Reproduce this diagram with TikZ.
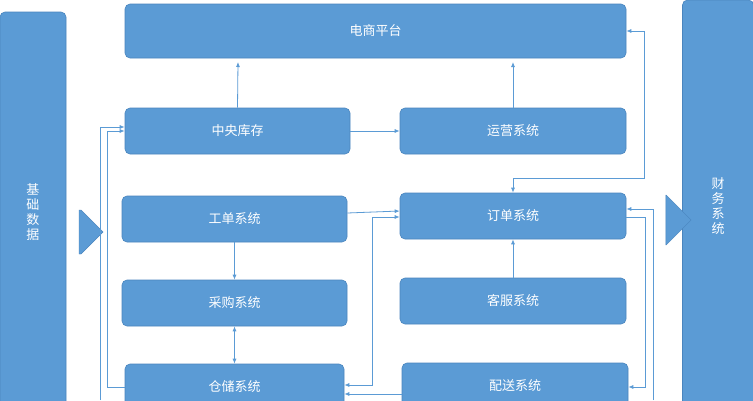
\documentclass[tikz,border=0pt]{standalone}
\usepackage{fontspec}
\newfontfamily\cjk{Noto Sans CJK SC}
\usetikzlibrary{arrows.meta,shapes.arrows}
\definecolor{bf}{HTML}{5B9BD5}
\definecolor{bd}{HTML}{4A85BE}
\begin{document}
\begin{tikzpicture}[x=1pt,y=-1pt,
  bx/.style={draw=bd,fill=bf,rounded corners=5pt,line width=0.6pt,text=white,font=\cjk\fontsize{13}{15}\selectfont},
  cn/.style={draw=bf,line width=0.8pt},
  ar/.style={cn,-{Latex[length=5pt,width=4pt]}},
  br/.style={cn,{Latex[length=5pt,width=4pt]}-{Latex[length=5pt,width=4pt]}}]
\useasboundingbox (0,0) rectangle (753,400);
\fill[white] (0,0) rectangle (753,400);
\newcommand\bxat[6]{\node[bx,minimum width=#4-#2,minimum height=#5-#3,inner sep=0pt] (#1) at ({(#2+#4)/2},{(#3+#5)/2}) {#6};}
\bxat{ds}{125}{4}{626}{58}{电商平台}
\bxat{zy}{125}{108}{350}{154}{中央库存}
\bxat{yy}{400}{108}{626}{154}{运营系统}
\bxat{gd}{122}{196}{347}{242}{工单系统}
\bxat{dd}{400}{193}{626}{239}{订单系统}
\bxat{cg}{122}{280}{347}{326}{采购系统}
\bxat{kf}{400}{278}{626}{324}{客服系统}
\bxat{cc}{125}{364}{344}{410}{仓储系统}
\bxat{ps}{402}{363}{628}{409}{配送系统}
\node[bx,minimum width=66pt,minimum height=400pt,inner sep=0pt,align=center] (jc) at (33,212) {基\\础\\数\\据};
\node[bx,minimum width=71pt,minimum height=412pt,inner sep=0pt,align=center] (cw) at (718,206) {财\\务\\系\\统};
\node[single arrow,fill=bf,draw=bd,minimum height=24pt,minimum width=44pt,single arrow head extend=0pt,inner sep=0pt] (la) at (80,232) {};
\node[single arrow,fill=bf,draw=bd,minimum height=23pt,minimum width=50pt,single arrow head extend=0pt,inner sep=0pt] (ra) at (666,220) {};
% connectors
\draw[ar] (zy.north) -- (238,62);
\draw[ar] (yy.north) -- (513,62);
\draw[ar] (zy.east) -- (yy.west);
\draw[ar] (kf.north) -- (dd.south);
\draw[ar] (gd.south) -- (cg.north);
\draw[br] (cg.south) -- (cc.north);
\draw[ar] (gd.east |- 0,213) -- (dd.west |- 0,211);
\draw[ar] (644,31) -- (644,178) -| (dd.north);
\draw[ar] (644,31) -- (ds.east |- 0,31);
\coordinate (cl) at (cc.west |- 0,387);
\draw[ar] (cl) -- (107,387) |- (zy.west |- 0,131);
\coordinate (bl) at (100,400);
\draw[ar] (bl) |- (zy.west |- 0,127);
\draw[br] (dd.west |- 0,217) -- (372,217) |- (cc.east |- 0,385);
\draw[ar] (ps.west |- 0,394) -- (cc.east |- 0,394);
\draw[ar] (dd.east |- 0,217) -- (645,217) |- (ps.east |- 0,387);
\coordinate (br) at (653,400);
\draw[ar] (br) |- (dd.east |- 0,209);
\end{tikzpicture}
\end{document}
